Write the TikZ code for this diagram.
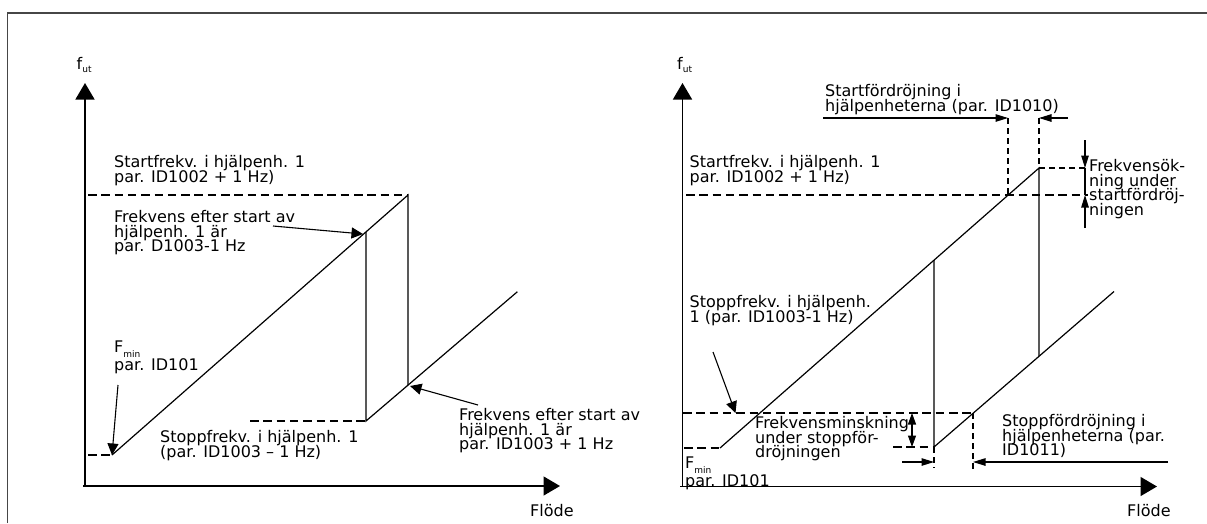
\documentclass[tikz,border=0pt]{standalone}
\usepackage{fontspec}
\setmainfont{DejaVu Sans}
\usetikzlibrary{arrows.meta}
\definecolor{framegray}{RGB}{70,70,70}
\newcommand\firstln{\rule{0pt}{12.2pt}}
\newcommand\fsz{\fontsize{16}{14.8}\selectfont\lineskiplimit=-30pt\relax}
\newcommand\subtx[2]{\raisebox{-#1}{\fontsize{9}{9}\selectfont #2}}
\begin{document}
\begin{tikzpicture}[x=1pt,y=-1pt,
  gline/.style={line width=1.2pt},
  axisln/.style={line width=1.5pt,-{Triangle[length=16.5pt,width=19pt]}},
  dashlong/.style={line width=1.1pt,dash pattern=on 8.5pt off 4.8pt},
  dashshort/.style={line width=1.1pt,dash pattern=on 6pt off 4pt},
  callout/.style={line width=1.1pt,-{Triangle[length=11.5pt,width=11pt]}},
  dimarrow/.style={line width=1.1pt,-{Triangle[length=12.5pt,width=7.5pt]}},
  dimboth/.style={line width=1.1pt,{Triangle[length=11.5pt,width=8pt]}-{Triangle[length=11.5pt,width=8pt]}},
  lbl/.style={anchor=north west,inner sep=0pt,align=left,font=\fsz},
  sgl/.style={anchor=base west,inner sep=0pt,font=\fsz},
  frameln/.style={line width=1.8pt,draw=framegray}]
\useasboundingbox (0,0) rectangle (1207,523);
\draw[frameln] (7.5,523) -- (7.5,13) -- (1207,13);

% ---------------- left chart ----------------
\coordinate (LO) at (85,486);
\coordinate (LYtop) at (85,83);
\coordinate (LXs) at (83,486);
\coordinate (LXe) at (560,486);
\coordinate (LA) at (112,455);
\coordinate (LB) at (408,195);
\coordinate (LC) at (408,385.1);
\coordinate (LD) at (366,421);
\coordinate (LE) at (517.4,291.7);
\coordinate (LF) at (366,231.9);
\coordinate (LS1) at (88,195);
\coordinate (LS2) at (250,421);
\coordinate (LM) at (88,455);

\draw[axisln] (LO) -- (LYtop);
\draw[axisln] (LXs) -- (LXe);
\draw[dashlong] (LS1) -- (LB);
\draw[dashlong] (LS2) -- (LD);
\draw[dashlong] (LM) -- (LA);
\draw[gline] (LA) -- (LB) -- (LC);
\draw[gline] (LF) -- (LD) -- (LE);

\node[sgl] (lfut) at (76.5,69) {f\subtx{3pt}{ut}};
\node[lbl] (lstart) at (114,167-12.2) {\firstln Startfrekv. i hjälpenh. 1\\par. ID1002 + 1 Hz)};
\node[lbl] (lafter1) at (114,222-12.2) {\firstln Frekvens efter start av\\hjälpenh. 1 är\\par. D1003-1 Hz};
\node[lbl] (lfmin) at (114,352-12.2) {\firstln F\subtx{5pt}{min}\\[3.2pt]par. ID101};
\node[lbl] (lstop) at (160,442-12.2) {\firstln Stoppfrekv. i hjälpenh. 1\\(par. ID1003 – 1 Hz)};
\node[lbl] (lafter2) at (459,420-12.2) {\firstln Frekvens efter start av\\hjälpenh. 1 är\\par. ID1003 + 1 Hz};
\node[sgl] (lflode) at (530,516) {Flöde};

\coordinate (LT1) at (273,226);
\coordinate (LH1) at (363,234);
\coordinate (LT2) at (478,405);
\coordinate (LH2) at (410,386);
\coordinate (LT3) at (118,385);
\draw[callout] (LT1) -- (LH1);
\draw[callout] (LT2) -- (LH2);
\draw[callout] (LT3) -- (LA);

% ---------------- right chart ----------------
\coordinate (RO) at (682.5,486.5);
\coordinate (RYtop) at (682.5,83);
\coordinate (RXs) at (680,486.5);
\coordinate (RXe) at (1157,486.5);
\coordinate (RA) at (720,448);
\coordinate (RB) at (1039,168);
\coordinate (RC) at (1039,356.3);
\coordinate (RD) at (934,447);
\coordinate (RE) at (1114,291.5);
\coordinate (RF) at (934,260.2);
\coordinate (RS1) at (686,195);
\coordinate (RS2) at (1088,195);
\coordinate (RX1) at (1008,195);
\coordinate (RP) at (973,413);
\coordinate (RP0) at (683,413);
\coordinate (RM) at (684,448);

\draw[axisln] (RO) -- (RYtop);
\draw[axisln] (RXs) -- (RXe);
\draw[dashlong] (RS1) -- (RS2);
\draw[dashlong] (RP0) -- (RP);
\draw[dashlong] (RM) -- (RA);
\draw[gline] (RA) -- (RB) -- (RC);
\draw[gline] (RF) -- (RD) -- (RE);

% start delay
\coordinate (RT1) at (823,118);
\coordinate (RH1) at (1008,118);
\coordinate (RT2) at (1068,118);
\coordinate (RH2) at (1039,118);
\draw[dimarrow] (RT1) -- (RH1);
\draw[dimarrow] (RT2) -- (RH2);
\draw[dashshort] (RH1) -- (RX1);
\draw[dashshort] (RH2) -- (RB);

% frequency increase
\coordinate (RK) at (1085,168);
\coordinate (RK2) at (1085,195);
\coordinate (RKt) at (1085,140);
\coordinate (RKb) at (1085,228);
\draw[dashshort] (RB) -- (RK);
\draw[gline,line width=1.1pt] (RK) -- (RK2);
\draw[dimarrow] (RKt) -- (RK);
\draw[dimarrow] (RKb) -- (RK2);

% stop side
\coordinate (RQ1) at (893,447);
\coordinate (RW1) at (912,413);
\coordinate (RW2) at (912,447);
\coordinate (RV1) at (934,468);
\coordinate (RV2) at (973,472);
\coordinate (RT3) at (902,462);
\coordinate (RH3) at (934,462);
\coordinate (RT4) at (1168,462);
\coordinate (RH4) at (973,462);
\draw[dashlong] (RQ1) -- (RD);
\draw[dimboth] (RW1) -- (RW2);
\draw[dashshort] (RD) -- (RV1);
\draw[dashshort] (RP) -- (RV2);
\draw[dimarrow] (RT3) -- (RH3);
\draw[dimarrow] (RT4) -- (RH4);

\coordinate (RT5) at (713,352);
\coordinate (RH5) at (735.5,413);
\draw[callout] (RT5) -- (RH5);

\node[sgl] (rfut) at (677,69) {f\subtx{3pt}{ut}};
\node[lbl] (rdelay) at (825,96-12.2) {\firstln Startfördröjning i\\hjälpenheterna (par. ID1010)};
\node[lbl] (rstart) at (689.5,167-12.2) {\firstln Startfrekv. i hjälpenh. 1\\par. ID1002 + 1 Hz)};
\node[lbl] (rinc) at (1089,171-12.2) {\firstln Frekvensök-\\ning under\\startfördröj-\\ningen};
\node[lbl] (rstop) at (689.5,307-12.2) {\firstln Stoppfrekv. i hjälpenh.\\1 (par. ID1003-1 Hz)};
\node[lbl] (rdec) at (755,428-12.2) {\firstln Frekvensminskning\\under stoppför-\\dröjningen};
\node[lbl] (rsdelay) at (1002,426-12.2) {\firstln Stoppfördröjning i\\hjälpenheterna (par.\\ID1011)};
\node[lbl] (rfmin) at (685,468-12.2) {\firstln F\subtx{5pt}{min}\\[3.2pt]par. ID101};
\node[sgl] (rflode) at (1127,516) {Flöde};
\end{tikzpicture}
\end{document}
